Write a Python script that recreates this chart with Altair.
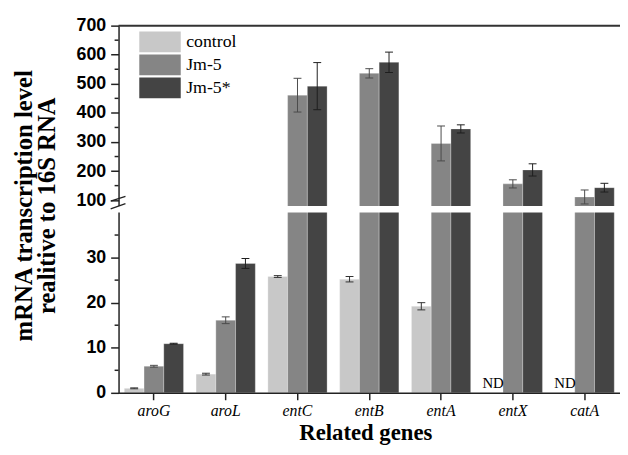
import altair as alt
import pandas as pd

# ---------------- data ----------------
genes = ["aroG", "aroL", "entC", "entB", "entA", "entX", "catA"]
groups = ["control", "Jm-5", "Jm-5*"]
control = [1.0, 4.15, 25.8, 25.2, 19.2, None, None]
control_err = [0.1, 0.2, 0.2, 0.6, 0.8, None, None]
jm5 = [5.9, 16.1, 461, 536, 295, 156, 111]
jm5_err = [0.2, 0.75, 58, 16, 60, 14, 24]
jm5s = [10.9, 28.7, 492, 574, 345, 204, 143]
jm5s_err = [0.1, 1.1, 81, 35, 14, 21, 15]
nd_genes = ["entX", "catA"]
y_ticks_major = [0, 10, 20, 30, 100, 200, 300, 400, 500, 600, 700]
y_ticks_minor = [5, 15, 25, 35, 150, 250, 350, 450, 550, 650]
y_title = ["mRNA transcription level", "realitive to 16S RNA"]
x_title = "Related genes"

colors = ["#c8c8c8", "#858585", "#444444"]
err_colors = ["#333333", "#4a4a4a", "#1e1e1e"]

rows = []
for g, vals, errs in zip(groups, [control, jm5, jm5s], [control_err, jm5_err, jm5s_err]):
    for gene, v, e in zip(genes, vals, errs):
        if v is None:
            continue
        rows.append({"gene": gene, "group": g, "value": v, "lo": v - e, "hi": v + e})
df = pd.DataFrame(rows)
nd_df = pd.DataFrame({"gene": nd_genes, "group": ["control"] * len(nd_genes),
                      "label": ["ND"] * len(nd_genes), "value": [0] * len(nd_genes)})
minor_df = pd.DataFrame({"tick": y_ticks_minor})
gap_df = pd.DataFrame({"lo": [40], "hi": [80]})

# ---------------- layout ----------------
W, H = 508, 372
yscale = alt.Scale(domain=[0, 40, 80, 700], range=[H, 189.3, 182.7, 0], nice=False, zero=False)

yaxis = alt.Axis(
    values=y_ticks_major, tickSize=8,
    labelFont="Liberation Sans", labelFontWeight="bold", labelFontSize=18,
    labelColor="black", labelPadding=5, labelOverlap=False,
    tickColor="#222222", tickWidth=1.5, domainColor="#222222", domainWidth=1.5,
    grid=False, zindex=0,
    title=y_title, titleFont="Liberation Serif", titleFontSize=25, titleFontWeight="bold",
    titleColor="black", titleX=-88.5, titleY=182, titleAngle=270, titleAlign="center",
    titleBaseline="alphabetic", titleLineHeight=24,
)
xaxis = alt.Axis(
    labelAngle=0, labelFont="Liberation Serif", labelFontStyle="italic", labelFontSize=16,
    labelColor="black", labelPadding=3, tickSize=7, tickColor="#222222", tickWidth=1.5,
    domainColor="#222222", domainWidth=1.5, grid=False, zindex=1,
    title=x_title, titleFont="Liberation Serif", titleFontSize=23, titleFontWeight="bold",
    titleColor="black", titleX=250, titleY=46.8, titleBaseline="alphabetic", titleAlign="center",
)

X = alt.X("gene:N", sort=genes, scale=alt.Scale(domain=genes, paddingInner=0.175, paddingOuter=0.08), axis=xaxis)
XO = alt.XOffset("group:N", scale=alt.Scale(domain=groups))


def Yq(field):
    return alt.Y(field, type="quantitative", scale=yscale, axis=yaxis)


bars = alt.Chart(df).mark_bar(stroke="#ffffff", strokeOpacity=0.35, strokeWidth=0.8).encode(
    x=X, xOffset=XO,
    y=Yq("value"),
    color=alt.Color("group:N", scale=alt.Scale(domain=groups, range=colors),
                    legend=alt.Legend(title=None, orient="none", legendX=21, legendY=6,
                                      symbolType="M-2,-1H2V1H-2Z", symbolSize=441,
                                      symbolOffset=10.5,
                                      symbolStrokeWidth=0, symbolOpacity=1,
                                      labelFont="Liberation Serif", labelFontSize=18,
                                      labelColor="black", labelOffset=16, rowPadding=2.3,
                                      padding=0)),
)

gap = alt.Chart(gap_df).mark_rect(color="white").encode(
    x=alt.value(-3), x2=alt.value(W), y=Yq("lo"), y2="hi")

minor = alt.Chart(minor_df).mark_rule(color="#222222", strokeWidth=1.5).encode(
    x=alt.value(-4), x2=alt.value(0), y=Yq("tick"))

err_stroke = alt.Stroke("group:N", scale=alt.Scale(domain=groups, range=err_colors), legend=None)
err_fill = alt.Fill("group:N", scale=alt.Scale(domain=groups, range=err_colors), legend=None)
err_rule = alt.Chart(df).mark_rule(strokeWidth=1).encode(
    x=X, xOffset=XO, y=Yq("lo"), y2="hi", stroke=err_stroke)
cap_hi = alt.Chart(df).mark_tick(thickness=1, size=8, opacity=1).encode(
    x=X, xOffset=XO, y=Yq("hi"), fill=err_fill)
cap_lo = alt.Chart(df).mark_tick(thickness=1, size=8, opacity=1).encode(
    x=X, xOffset=XO, y=Yq("lo"), fill=err_fill)

nd = alt.Chart(nd_df).mark_text(font="Liberation Serif", fontSize=15, baseline="bottom",
                                dy=-2, color="black").encode(
    x=X, xOffset=XO, y=Yq("value"), text="label:N")

slash_df = pd.DataFrame({"a": [97, 62], "b": [113, 88]})
slashes = alt.Chart(slash_df).mark_rule(color="#222222", strokeWidth=1.3).encode(
    x=alt.value(-8), x2=alt.value(7), y=Yq("a"), y2="b")

frame_df = pd.DataFrame({"top": [700]})
frame = alt.Chart(frame_df).mark_rule(color="#333333", strokeWidth=2).encode(y=Yq("top"))

chart = alt.layer(bars, gap, minor, err_rule, cap_hi, cap_lo, nd, slashes, frame).properties(
    width=W, height=H,
    autosize=alt.AutoSizeParams(type="none"),
    padding={"left": 112, "top": 15, "right": 0, "bottom": 52},
).configure_view(stroke=None).configure_tick(bandSize=8)

chart.save("out.html", embed_options={"renderer": "svg", "actions": False})
